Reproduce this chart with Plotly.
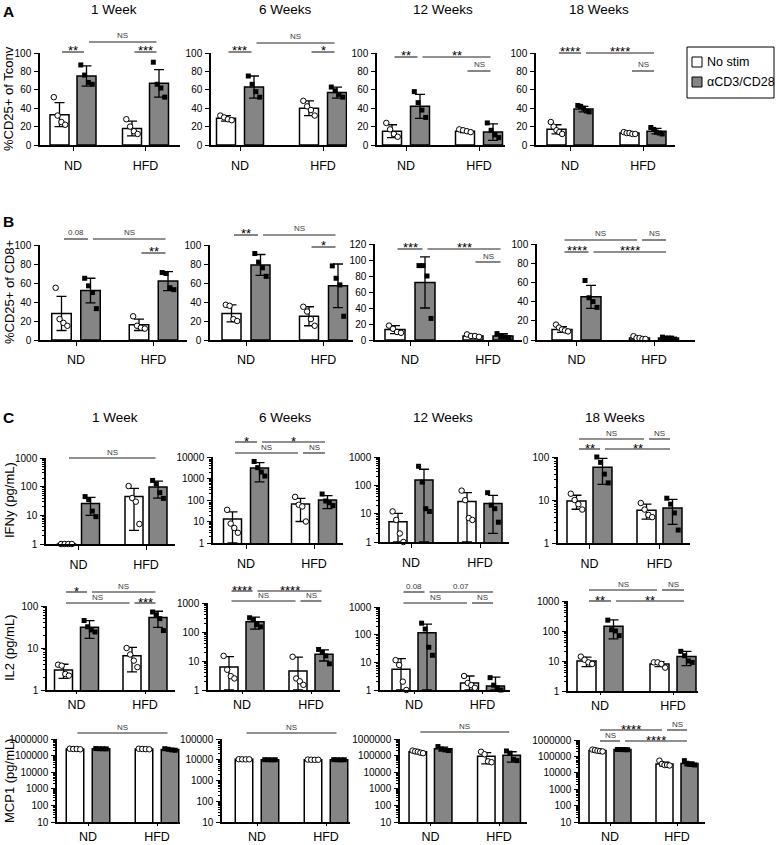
import numpy as np
import plotly.graph_objects as go

W, H = 776, 845
FONT = "Liberation Sans, Arial, Helvetica, sans-serif"
GREY = "#858585"

weeks = ["1 Week", "6 Weeks", "12 Weeks", "18 Weeks"]
groups = ["ND", "HFD"]
conditions = ["No stim", "αCD3/CD28"]
row_titles = ["%CD25+ of Tconv", "%CD25+ of CD8+", "IFNy (pg/mL)", "IL2 (pg/mL)", "MCP1 (pg/mL)"]

# order inside each list: ND No stim, ND αCD3/CD28, HFD No stim, HFD αCD3/CD28
# ---- A: %CD25+ of Tconv
tconv_1w_mean = [33, 75, 18, 67]
tconv_1w_sd = [13, 11, 8, 15]
tconv_1w_pts = [[52, 32, 25, 22], [87, 76, 68, 66], [28, 20, 15, 12], [90, 66, 62, 52]]
tconv_6w_mean = [29, 63, 40, 57]
tconv_6w_sd = [3, 12, 8, 6]
tconv_6w_pts = [[32, 30, 28, 27], [75, 66, 58, 52], [48, 42, 38, 32], [63, 59, 55, 52]]
tconv_12w_mean = [15, 42, 15, 14]
tconv_12w_sd = [7, 13, 1.5, 9]
tconv_12w_pts = [[24, 17, 12, 9], [58, 46, 38, 30], [17, 16, 15, 14], [24, 16, 11, 8]]
tconv_18w_mean = [17, 39, 13, 15]
tconv_18w_sd = [5, 3, 1, 3]
tconv_18w_pts = [[25, 20, 16, 14, 12], [43, 42, 40, 37, 36], [14, 13, 13, 12, 12], [19, 17, 14, 13, 12]]
# ---- B: %CD25+ of CD8+
cd8_1w_mean = [28, 52, 16, 62]
cd8_1w_sd = [18, 13, 6, 10]
cd8_1w_pts = [[55, 22, 18, 15], [65, 57, 50, 33], [25, 15, 13, 12], [71, 70, 55, 53]]
cd8_6w_mean = [28, 79, 25, 57]
cd8_6w_sd = [9, 11, 10, 23]
cd8_6w_pts = [[37, 36, 22, 20], [91, 82, 76, 67], [35, 30, 22, 15], [78, 65, 58, 25]]
cd8_12w_mean = [13, 72, 5, 5]
cd8_12w_sd = [5, 32, 1.5, 3]
cd8_12w_pts = [[18, 14, 10, 9], [93, 93, 80, 27], [7, 5, 5, 4], [8, 5, 4, 3]]
cd8_18w_mean = [11, 45, 2, 2]
cd8_18w_sd = [3, 12, 1, 1]
cd8_18w_pts = [[16, 13, 11, 10, 9], [62, 44, 40, 34], [4, 2, 2, 1, 1], [3, 2, 2, 2, 1]]
# ---- C: IFNy (pg/mL)
ifn_1w_mean = [1, 26, 45, 98]
ifn_1w_sd = [0, 16, 42, 58]
ifn_1w_pts = [[1, 1, 1, 1], [45, 35, 14, 9], [105, 40, 30, 5], [165, 125, 62, 39]]
ifn_6w_mean = [13, 3100, 65, 100]
ifn_6w_sd = [15, 2400, 55, 60]
ifn_6w_pts = [[35, 8, 5, 3], [6200, 3200, 2000, 1300], [140, 60, 50, 10], [190, 90, 75, 55]]
ifn_12w_mean = [5.2, 155, 27, 23]
ifn_12w_sd = [5, 215, 28, 21]
ifn_12w_pts = [[12, 6, 2, 1], [470, 130, 15, 12], [65, 30, 7, 6], [55, 20, 15, 5]]
ifn_18w_mean = [9.5, 58, 5.8, 6.5]
ifn_18w_sd = [3.4, 35, 2.2, 3.8]
ifn_18w_pts = [[14, 10, 8, 6], [100, 75, 40, 25], [8.5, 6, 4.5, 4], [11, 8, 5, 2]]
# ---- C: IL2 (pg/mL)
il2_1w_mean = [3.0, 31, 6.5, 53]
il2_1w_sd = [1.1, 14, 3.8, 22]
il2_1w_pts = [[4, 3.8, 2.4, 2.2], [45, 32, 27, 24], [10, 7, 5, 3.5], [72, 62, 50, 26]]
il2_6w_mean = [6.2, 225, 4.5, 17]
il2_6w_sd = [8, 100, 9, 7]
il2_6w_pts = [[15, 5, 3, 2.5], [310, 270, 180, 150], [14, 2.5, 2, 1.5], [25, 20, 15, 8]]
il2_12w_mean = [5.6, 117, 1.8, 1.4]
il2_12w_sd = [8, 125, 1.4, 1.5]
il2_12w_pts = [[12, 8, 2, 1], [260, 160, 35, 18], [3.2, 1.8, 1.5, 1.2], [2.8, 1.5, 1.2, 1.0]]
il2_18w_mean = [10, 145, 8, 14]
il2_18w_sd = [3.5, 90, 1.5, 7]
il2_18w_pts = [[14, 11, 9, 8], [230, 110, 100, 70], [9, 9, 8, 6], [21, 15, 10, 9]]
# ---- C: MCP1 (pg/mL)
mcp_1w_mean = [250000, 260000, 250000, 230000]
mcp_1w_sd = [10000, 5000, 10000, 20000]
mcp_1w_pts = [[260000, 250000, 250000, 240000], [265000, 260000, 258000, 255000],
              [260000, 250000, 245000, 240000], [260000, 240000, 220000, 210000]]
mcp_6w_mean = [10500, 10000, 10000, 10000]
mcp_6w_sd = [300, 300, 300, 300]
mcp_6w_pts = [[10600, 10500, 10400, 10500], [10100, 10000, 9900, 10000],
              [10200, 10000, 9900, 10000], [10100, 10000, 9900, 10000]]
mcp_12w_mean = [170000, 255000, 92000, 105000]
mcp_12w_sd = [25000, 65000, 60000, 65000]
mcp_12w_pts = [[200000, 180000, 170000, 150000, 140000], [350000, 250000, 220000, 200000],
               [170000, 120000, 45000, 40000], [190000, 140000, 60000, 50000]]
mcp_18w_mean = [230000, 260000, 35000, 37000]
mcp_18w_sd = [25000, 5000, 10000, 10000]
mcp_18w_pts = [[260000, 240000, 220000, 210000, 200000], [265000, 262000, 260000, 258000, 255000],
               [55000, 35000, 30000, 30000, 28000], [55000, 38000, 33000, 32000, 30000]]

# significance comparisons: (bar i, bar j, label)
sig_tconv = [[(0, 1, "**"), (2, 3, "***"), (1, 3, "NS")],
             [(0, 1, "***"), (2, 3, "*"), (1, 3, "NS")],
             [(0, 1, "**"), (1, 3, "**"), (2, 3, "NS")],
             [(0, 1, "****"), (1, 3, "****"), (2, 3, "NS")]]
sig_cd8 = [[(0, 1, "0.08"), (1, 3, "NS"), (2, 3, "**")],
           [(0, 1, "**"), (1, 3, "NS"), (2, 3, "*")],
           [(0, 1, "***"), (1, 3, "***"), (2, 3, "NS")],
           [(0, 2, "NS"), (2, 3, "NS"), (0, 1, "****"), (1, 3, "****")]]
sig_ifn = [[(0, 3, "NS")],
           [(0, 1, "*"), (1, 3, "*"), (0, 2, "NS"), (2, 3, "NS")],
           [],
           [(0, 2, "NS"), (2, 3, "NS"), (0, 1, "**"), (1, 3, "**")]]
sig_il2 = [[(0, 1, "*"), (1, 3, "NS"), (0, 2, "NS"), (2, 3, "***")],
           [(0, 1, "****"), (1, 3, "****"), (0, 2, "NS"), (2, 3, "NS")],
           [(0, 1, "0.08"), (1, 3, "0.07"), (0, 2, "NS"), (2, 3, "NS")],
           [(0, 2, "NS"), (2, 3, "NS"), (0, 1, "**"), (1, 3, "**")]]
sig_mcp = [[(0, 3, "NS")], [(0, 3, "NS")], [(0, 3, "NS")],
           [(0, 2, "****"), (2, 3, "NS"), (0, 1, "NS"), (1, 3, "****")]]

# ---------------- layout geometry (pixels) ----------------
# L,R: x-axis extent; top,bottom: y-axis extent; c0,c1: ND/HFD centres; off: bar offset; bw: bar width
geo = {
    (0, 0): dict(L=40, R=180, top=53, bottom=145, c0=73, c1=145.5, off=13.5, bw=19),
    (0, 1): dict(L=211, R=347, top=53, bottom=145, c0=240, c1=323, off=14, bw=19),
    (0, 2): dict(L=377, R=505, top=53, bottom=145, c0=406, c1=479, off=14, bw=19),
    (0, 3): dict(L=536, R=675, top=53, bottom=145, c0=570, c1=643, off=13.5, bw=19),
    (1, 0): dict(L=40, R=187, top=245, bottom=340, c0=76, c1=153.5, off=14.5, bw=19.5),
    (1, 1): dict(L=210, R=353, top=245, bottom=340, c0=246, c1=323.5, off=14.5, bw=19),
    (1, 2): dict(L=375, R=522, top=244, bottom=340, c0=410, c1=488, off=15, bw=20),
    (1, 3): dict(L=537, R=695, top=244, bottom=340, c0=576.5, c1=654, off=14.5, bw=20),
    (2, 0): dict(L=46, R=175, top=458, bottom=544, c0=78.5, c1=146, off=12, bw=18),
    (2, 1): dict(L=213, R=343, top=457, bottom=543, c0=246, c1=314, off=13.5, bw=18),
    (2, 2): dict(L=380, R=509, top=457, bottom=542, c0=411, c1=480, off=13, bw=18),
    (2, 3): dict(L=558, R=690, top=457, bottom=543, c0=589.5, c1=659.5, off=13, bw=19),
    (3, 0): dict(L=47, R=175, top=606, bottom=690, c0=76.5, c1=145, off=13, bw=18),
    (3, 1): dict(L=208, R=340, top=603, bottom=690, c0=242, c1=311, off=13, bw=18),
    (3, 2): dict(L=380, R=510, top=607, bottom=690, c0=414, c1=482.5, off=13, bw=18),
    (3, 3): dict(L=568, R=698, top=601, bottom=691, c0=600, c1=673, off=13.5, bw=19),
    (4, 0): dict(L=57, R=180, top=739, bottom=822, c0=88, c1=157, off=13, bw=17.5),
    (4, 1): dict(L=222, R=350, top=739, bottom=822, c0=257, c1=326, off=13, bw=17.5),
    (4, 2): dict(L=400, R=527, top=739, bottom=822, c0=430.5, c1=499, off=12.7, bw=17.5),
    (4, 3): dict(L=580, R=705, top=740, bottom=822, c0=610, c1=677, off=12.5, bw=17),
}
# y pixel of each significance line, same order as sig lists
sig_levels = {
    (0, 0): [52, 52, 42], (0, 1): [52, 52, 43], (0, 2): [57, 57, 71], (0, 3): [53, 53, 71],
    (1, 0): [239, 239, 253], (1, 1): [235, 235, 247], (1, 2): [249, 249, 262], (1, 3): [240, 240, 252, 252],
    (2, 0): [458], (2, 1): [442, 442, 453, 453], (2, 2): [], (2, 3): [439, 439, 449, 449],
    (3, 0): [592, 592, 603, 603], (3, 1): [591, 591, 601, 601], (3, 2): [592, 592, 603, 603],
    (3, 3): [590, 590, 601, 601],
    (4, 0): [733], (4, 1): [733], (4, 2): [732], (4, 3): [730, 730, 741, 741],
}
xlabel_standoff = [4, 3, 4, 0, 0]
xtick_len = [4, 4, 4, 2, 2]

rows = [
    dict(means=[tconv_1w_mean, tconv_6w_mean, tconv_12w_mean, tconv_18w_mean],
         sds=[tconv_1w_sd, tconv_6w_sd, tconv_12w_sd, tconv_18w_sd],
         pts=[tconv_1w_pts, tconv_6w_pts, tconv_12w_pts, tconv_18w_pts],
         sig=sig_tconv, scale=["lin100"] * 4),
    dict(means=[cd8_1w_mean, cd8_6w_mean, cd8_12w_mean, cd8_18w_mean],
         sds=[cd8_1w_sd, cd8_6w_sd, cd8_12w_sd, cd8_18w_sd],
         pts=[cd8_1w_pts, cd8_6w_pts, cd8_12w_pts, cd8_18w_pts],
         sig=sig_cd8, scale=["lin100", "lin100", "lin120", "lin100"]),
    dict(means=[ifn_1w_mean, ifn_6w_mean, ifn_12w_mean, ifn_18w_mean],
         sds=[ifn_1w_sd, ifn_6w_sd, ifn_12w_sd, ifn_18w_sd],
         pts=[ifn_1w_pts, ifn_6w_pts, ifn_12w_pts, ifn_18w_pts],
         sig=sig_ifn, scale=[(0, 3), (0, 4), (0, 3), (0, 2)]),
    dict(means=[il2_1w_mean, il2_6w_mean, il2_12w_mean, il2_18w_mean],
         sds=[il2_1w_sd, il2_6w_sd, il2_12w_sd, il2_18w_sd],
         pts=[il2_1w_pts, il2_6w_pts, il2_12w_pts, il2_18w_pts],
         sig=sig_il2, scale=[(0, 2), (0, 3), (0, 3), (0, 3)]),
    dict(means=[mcp_1w_mean, mcp_6w_mean, mcp_12w_mean, mcp_18w_mean],
         sds=[mcp_1w_sd, mcp_6w_sd, mcp_12w_sd, mcp_18w_sd],
         pts=[mcp_1w_pts, mcp_6w_pts, mcp_12w_pts, mcp_18w_pts],
         sig=sig_mcp, scale=[(1, 6), (1, 5), (1, 6), (1, 6)]),
]

fig = go.Figure()
layout = dict(width=W, height=H, autosize=False, margin=dict(l=0, r=0, t=0, b=0, pad=0),
              template="none",
              paper_bgcolor="white", plot_bgcolor="rgba(0,0,0,0)",
              showlegend=False, font=dict(family=FONT, color="black"),
              shapes=[], annotations=[])


def px(x):
    return x / W


def py(y):
    return 1 - y / H


k = 0
for r, row in enumerate(rows):
    for c in range(4):
        k += 1
        g = geo[(r, c)]
        s = g["c1"] - g["c0"]
        off = g["off"] / s
        bw = g["bw"] / s
        xr = [(g["L"] - g["c0"]) / s, (g["R"] - g["c0"]) / s]
        xs = [0 - off, 0 + off, 1 - off, 1 + off]
        xa = "x" if k == 1 else f"x{k}"
        ya = "y" if k == 1 else f"y{k}"
        means, sds, pts = row["means"][c], row["sds"][c], row["pts"][c]
        scale = row["scale"][c]
        is_log = not isinstance(scale, str)

        if is_log:
            lo, hi = scale
            ymin = 10 ** lo
            yrange = [lo, hi]
        else:
            ymin = None
            yrange = [0, 120 if scale == "lin120" else 100]

        def err_minus(m, sd):
            if is_log and m - sd <= ymin:
                return max(m - ymin * 1.0001, 0)
            return sd

        for cond in range(2):
            idx = [cond, cond + 2]
            fig.add_trace(go.Bar(
                x=[xs[i] for i in idx], y=[means[i] for i in idx], width=bw,
                name=conditions[cond], xaxis=xa, yaxis=ya,
                marker=dict(color="white" if cond == 0 else GREY,
                            line=dict(color="black", width=1.5)),
                error_y=dict(type="data", symmetric=False,
                             array=[sds[i] for i in idx],
                             arrayminus=[err_minus(means[i], sds[i]) for i in idx],
                             color="black", thickness=1.3, width=5),
                showlegend=False, hoverinfo="skip"))
        for i in range(4):
            vals = pts[i]
            n = len(vals)
            spread = np.linspace(-1, 1, n) * 0.3 * bw if n > 1 else np.zeros(1)
            stim = i % 2 == 1
            fig.add_trace(go.Scatter(
                x=xs[i] + spread, y=vals, mode="markers", xaxis=xa, yaxis=ya,
                cliponaxis=False, showlegend=False, hoverinfo="skip",
                marker=dict(symbol="square" if stim else "circle", size=5 if stim else 5.5,
                            color="black" if stim else "white",
                            line=dict(color="black", width=0 if stim else 1))))

        xkey = "xaxis" if k == 1 else f"xaxis{k}"
        ykey = "yaxis" if k == 1 else f"yaxis{k}"
        layout[xkey] = dict(domain=[px(g["L"]), px(g["R"])], range=xr, anchor=ya,
                            automargin=False,
                            showline=True, linecolor="black", linewidth=1.5,
                            ticks="outside", ticklen=xtick_len[r], tickwidth=1.3, tickcolor="black",
                            tickvals=[0, 1], ticktext=groups,
                            tickfont=dict(size=12.5, family=FONT),
                            ticklabelstandoff=xlabel_standoff[r],
                            showgrid=False, zeroline=False, fixedrange=True)
        yax = dict(domain=[py(g["bottom"]), py(g["top"])], anchor=xa, automargin=False,
                   showline=True, linecolor="black", linewidth=1.5,
                   ticks="outside", ticklen=4, tickwidth=1.3, tickcolor="black",
                   tickfont=dict(size=10, family=FONT), ticklabelstandoff=1,
                   showgrid=False, zeroline=False, fixedrange=True)
        if is_log:
            lo, hi = scale
            yax.update(type="log", range=yrange,
                       tickvals=[10 ** d for d in range(lo, hi + 1)],
                       ticktext=[str(10 ** d) for d in range(lo, hi + 1)],
                       minor=dict(tickvals=[m * 10 ** d for d in range(lo, hi) for m in range(2, 10)],
                                  ticks="outside", ticklen=2, tickwidth=1, tickcolor="black",
                                  showgrid=False))
        else:
            top = yrange[1]
            yax.update(range=yrange, tickvals=list(range(0, top + 1, 20)))
        layout[ykey] = yax

        # significance brackets
        levels = sig_levels[(r, c)]
        inset = 2.5 / s
        for (i, j, lab), ly in zip(row["sig"][c], levels):
            yd = 1 + (g["top"] - ly) / (g["bottom"] - g["top"])
            layout["shapes"].append(dict(type="line", xref=xa, yref=f"{ya} domain",
                                         x0=xs[i] + inset, x1=xs[j] - inset, y0=yd, y1=yd,
                                         line=dict(color="#222222", width=1.1)))
            star = "*" in lab
            layout["annotations"].append(dict(
                xref=xa, yref=f"{ya} domain", x=(xs[i] + xs[j]) / 2, y=yd,
                text=lab, showarrow=False, xanchor="center", yanchor="middle",
                yshift=1 if star else 6,
                font=dict(size=13 if star else 8, family=FONT,
                          color="black" if star else "#3a3a3a")))

# column titles
for cx, t in zip([114, 285, 443, 599], weeks):
    layout["annotations"].append(dict(xref="paper", yref="paper", x=px(cx), y=py(10), text=t,
                                      xanchor="center", yanchor="middle",
                                      showarrow=False, font=dict(size=13.5, family=FONT)))
for cx, t in zip([115, 285, 443, 615], weeks):
    layout["annotations"].append(dict(xref="paper", yref="paper", x=px(cx), y=py(418), text=t,
                                      xanchor="center", yanchor="middle",
                                      showarrow=False, font=dict(size=13.5, family=FONT)))
# panel letters
for letter, ly in zip(["A", "B", "C"], [11, 222, 418]):
    layout["annotations"].append(dict(xref="paper", yref="paper", x=px(1), y=py(ly), text=f"<b>{letter}</b>",
                                      xanchor="left", yanchor="middle",
                                      showarrow=False, font=dict(size=15.5, family=FONT)))
# row y titles
for t, ly in zip(row_titles, [99, 292, 500, 648, 781]):
    layout["annotations"].append(dict(xref="paper", yref="paper", x=px(9), y=py(ly), text=t,
                                      xanchor="center", yanchor="middle",
                                      textangle=-90, showarrow=False, font=dict(size=13, family=FONT)))

# legend box
layout["shapes"].append(dict(type="rect", xref="paper", yref="paper", x0=px(687), x1=px(774),
                             y0=py(98), y1=py(47), line=dict(color="black", width=1)))
for (y0, y1), col, lab in zip([(57, 67), (77, 87)], ["white", GREY], conditions):
    layout["shapes"].append(dict(type="rect", xref="paper", yref="paper", x0=px(692), x1=px(702),
                                 y0=py(y1), y1=py(y0), fillcolor=col, line=dict(color="black", width=1)))
    layout["annotations"].append(dict(xref="paper", yref="paper", x=px(705), y=py((y0 + y1) / 2),
                                      text=lab, xanchor="left", yanchor="middle", showarrow=False,
                                      font=dict(size=12.5, family=FONT)))

fig.update_layout(**layout)
fig.write_html("out.html", config={"responsive": False, "displayModeBar": False},
               post_script="document.body.style.margin='0';document.body.style.overflow='hidden';")
